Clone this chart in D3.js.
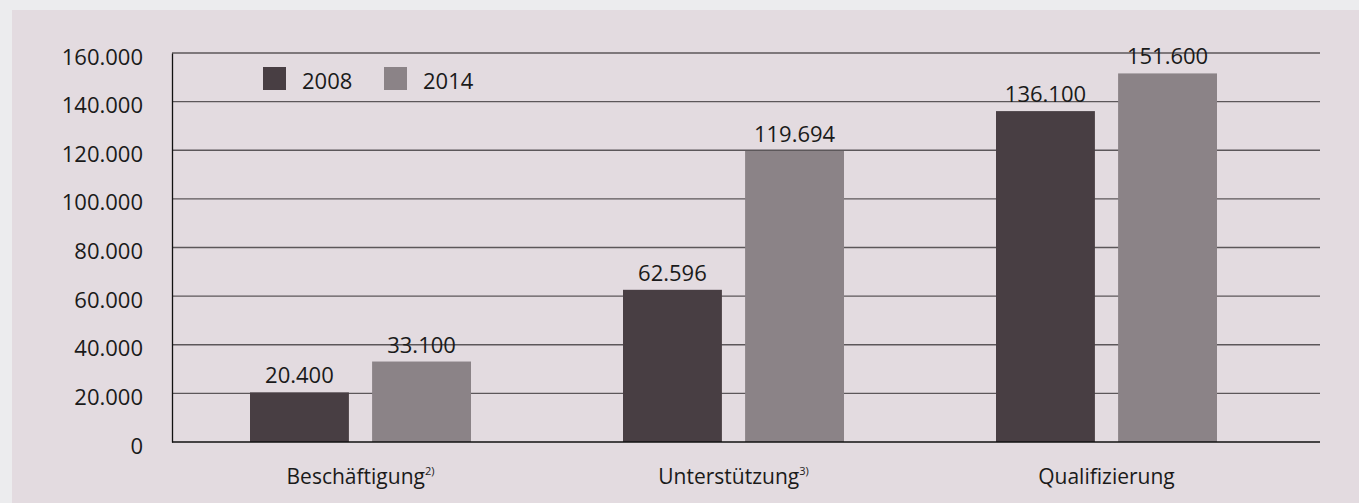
<!DOCTYPE html>
<html>
<head>
<meta charset="utf-8">
<script src="https://cdn.jsdelivr.net/npm/d3@7"></script>
<style>
  html, body { margin: 0; padding: 0; background: #ececee; }
  svg { display: block; }
  text { font-family: "Open Sans", "Noto Sans", sans-serif; fill: #1a1a1a; }
</style>
</head>
<body>
<svg id="chart" width="1359" height="503"></svg>
<script>
// Categories and values
const categories = ["Beschäftigung", "Unterstützung", "Qualifizierung"];
const footnotes = ["2)", "3)", ""];
const years = ["2008", "2014"];
const values2008 = [20400, 62596, 136100];
const values2014 = [33100, 119694, 151600];
const yTicks = [0, 20000, 40000, 60000, 80000, 100000, 120000, 140000, 160000];

const colors = { "2008": "#483e43", "2014": "#8b8387" };

const de = d3.formatLocale({ decimal: ",", thousands: ".", grouping: [3], currency: ["", " €"] });
const fmt = de.format(",d");

const svg = d3.select("#chart");

// Tinted panel behind the chart
svg.append("rect").attr("x", 12).attr("y", 10).attr("width", 1347).attr("height", 493)
  .attr("fill", "#e3dbe0");

const plot = { left: 172, right: 1320, top: 53, bottom: 442 };

const y = d3.scaleLinear().domain([0, 160000]).range([plot.bottom, plot.top]);
const x0 = d3.scaleBand().domain(categories).range([plot.left + 2, plot.left + 2 + 3 * 373]);
const x1 = d3.scaleBand().domain(years).range([76, 373 - 76]).paddingInner(0.19);

// Horizontal gridlines
svg.append("g").selectAll("line").data(yTicks.filter(d => d > 0)).join("line")
  .attr("x1", plot.left).attr("x2", plot.right)
  .attr("y1", d => y(d)).attr("y2", d => y(d))
  .attr("stroke", "#5c575a").attr("stroke-width", 1.3);

// Y axis
const yAxis = d3.axisLeft(y).tickValues(yTicks).tickFormat(d => fmt(d)).tickSize(0).tickPadding(29);
const gy = svg.append("g").attr("transform", `translate(${plot.left},0)`).call(yAxis);
gy.select(".domain").attr("stroke", "#111").attr("stroke-width", 1.3);
gy.selectAll("text").attr("font-size", 22).attr("font-family", "Open Sans").attr("fill", "#1a1a1a")
  .attr("dy", "0.5em");

// Bars
const rows = categories.map((c, i) => ({ cat: c, vals: [values2008[i], values2014[i]] }));
const groups = svg.append("g").selectAll("g").data(rows).join("g")
  .attr("transform", d => `translate(${x0(d.cat)},0)`);

groups.selectAll("rect").data(d => d.vals.map((v, j) => ({ year: years[j], v })))
  .join("rect")
  .attr("x", d => x1(d.year))
  .attr("width", x1.bandwidth())
  .attr("y", d => y(d.v))
  .attr("height", d => y(0) - y(d.v))
  .attr("fill", d => colors[d.year]);

groups.selectAll("text.val").data(d => d.vals.map((v, j) => ({ year: years[j], v })))
  .join("text").attr("class", "val")
  .attr("x", d => x1(d.year) + x1.bandwidth() / 2)
  .attr("y", d => y(d.v) - 9)
  .attr("text-anchor", "middle")
  .attr("font-size", 22)
  .text(d => fmt(d.v));

// Baseline
svg.append("line").attr("x1", plot.left).attr("x2", plot.right)
  .attr("y1", y(0)).attr("y2", y(0)).attr("stroke", "#111").attr("stroke-width", 1.3);

// Category labels with footnote marks
const cat = svg.append("g").selectAll("text").data(categories).join("text")
  .attr("x", d => x0(d) + x0.bandwidth() / 2)
  .attr("y", 484)
  .attr("text-anchor", "middle")
  .attr("font-size", 21);
cat.append("tspan").text(d => d);
cat.append("tspan").attr("font-size", 11).attr("dy", -9).text((d, i) => footnotes[i]);

// Legend
const legend = svg.append("g");
const legendX = [263, 384];
years.forEach((yr, i) => {
  legend.append("rect").attr("x", legendX[i]).attr("y", 67).attr("width", 23).attr("height", 23)
    .attr("fill", colors[yr]);
  legend.append("text").attr("x", legendX[i] + 39).attr("y", 89).attr("font-size", 22).text(yr);
});
</script>
</body>
</html>
